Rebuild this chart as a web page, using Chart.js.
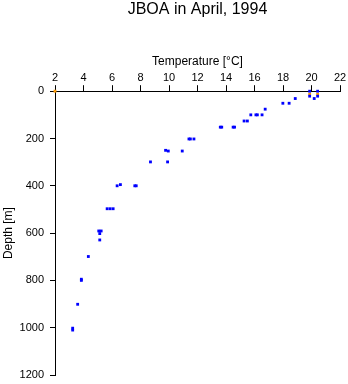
<!DOCTYPE html>
<html>
<head>
<meta charset="utf-8">
<script src="https://cdn.jsdelivr.net/npm/chart.js@4/dist/chart.umd.min.js"></script>
<style>
  html, body { margin:0; padding:0; background:#fff; }
  #wrap { width:348px; height:384px; position:relative; }
</style>
</head>
<body>
<div id="wrap"><canvas id="c"></canvas></div>
<script>
// temperature [°C] and depth [m] of the blue readings
const tempBlue  = [19.87, 20.43, 19.87, 20.43, 18.86, 20.19, 17.99, 18.43, 16.75,
                   15.74, 16.1, 16.2, 16.53, 15.27, 15.5, 13.6, 13.7, 14.5, 14.6,
                   11.4, 11.5, 11.75, 9.76, 9.95, 10.93, 8.7, 9.9,
                   6.36, 6.59, 7.6, 7.7, 5.66, 5.87, 6.08, 5.07, 5.24, 5.14, 5.14,
                   4.34, 3.85, 3.85, 3.59, 3.24, 3.24];
const depthBlue = [0, 0, 21, 21, 31, 31, 51, 51, 76,
                   100, 100, 100, 100, 126, 126, 152, 152, 152, 152,
                   202, 202, 202, 250, 253, 253, 299, 299,
                   400, 395, 400, 400, 497, 497, 497, 591, 591, 602, 629,
                   699, 795, 800, 901, 1002, 1010];
// orange markers
const tempOrange  = [2, 19.87, 20.43];
const depthOrange = [0, 13, 13];

const xTicks = [2, 4, 6, 8, 10, 12, 14, 16, 18, 20, 22];
const yTicks = [0, 200, 400, 600, 800, 1000, 1200];

const toPts = (xs, ys) => xs.map((x, i) => ({x: x, y: ys[i]}));
const FONT = "'Liberation Sans', Arial, sans-serif";

new Chart(document.getElementById('c'), {
  type: 'scatter',
  data: {
    datasets: [
      { label: 'blue', data: toPts(tempBlue, depthBlue), pointStyle: 'rect',
        pointRadius: 2, pointBorderWidth: 0, backgroundColor: '#0000ff', clip: false },
      { label: 'orange', data: toPts(tempOrange, depthOrange), pointStyle: 'rect',
        pointRadius: 2, pointBorderWidth: 0, backgroundColor: '#ff9900', clip: false }
    ]
  },
  options: {
    responsive: true,
    maintainAspectRatio: false,
    animation: false,
    layout: { padding: { left: 0, right: 8, top: 0, bottom: 9 } },
    plugins: {
      legend: { display: false },
      tooltip: { enabled: false },
      title: { display: true, fullSize: false, text: 'JBOA in April, 1994', color: '#000',
               font: { family: FONT, size: 16, weight: 'normal' },
               padding: { top: 0, bottom: 29 } }
    },
    scales: {
      x: {
        type: 'linear', position: 'top', min: 2, max: 22,
        afterBuildTicks: s => { s.ticks = xTicks.map(v => ({value: v})); },
        afterFit: s => { s.height = 90 - 47; s.paddingLeft = 0; s.paddingRight = 0; },
        grid: { drawOnChartArea: false, color: '#000', tickLength: 6 },
        border: { color: '#000', width: 1 },
        ticks: { color: '#000', padding: 1, font: { family: FONT, size: 11 } },
        title: { display: true, text: 'Temperature [°C]', color: '#000',
                 padding: { top: 6, bottom: 0 }, font: { family: FONT, size: 12 } }
      },
      y: {
        type: 'linear', position: 'left', reverse: true, min: 0, max: 1200,
        afterBuildTicks: s => { s.ticks = yTicks.map(v => ({value: v})); },
        afterFit: s => { s.width = 55; s.paddingTop = 0; s.paddingBottom = 0; },
        grid: { drawOnChartArea: false, color: '#000', tickLength: 5 },
        border: { color: '#000', width: 1 },
        ticks: { color: '#000', padding: 6, font: { family: FONT, size: 11 },
                 callback: v => String(v) },
        title: { display: true, text: 'Depth [m]', color: '#000',
                 padding: { top: 1, bottom: 0 }, font: { family: FONT, size: 12 } }
      }
    }
  }
});
</script>
</body>
</html>
